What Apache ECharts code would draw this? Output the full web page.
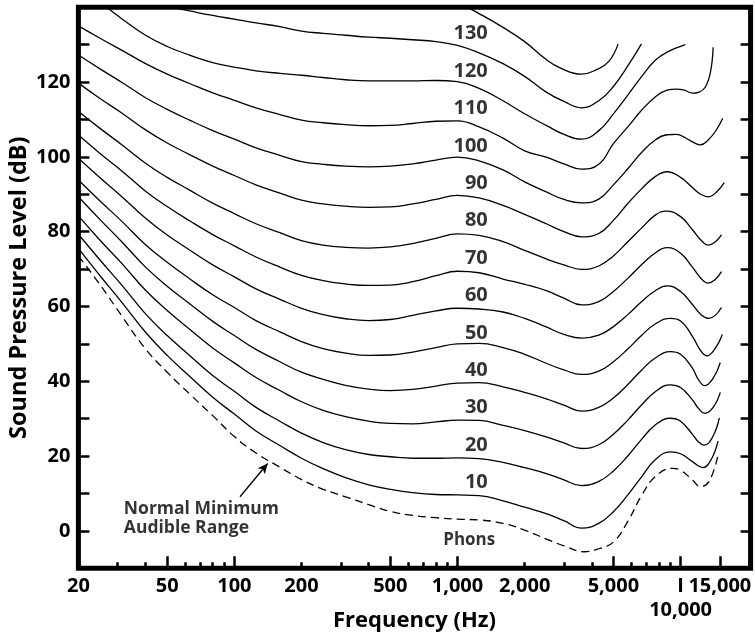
<!DOCTYPE html>
<html>
<head>
<meta charset="utf-8">
<script src="https://cdn.jsdelivr.net/npm/echarts@6/dist/echarts.min.js"></script>
<style>
  html, body { margin: 0; padding: 0; background: #fff; }
  #chart { width: 755px; height: 637px; }
</style>
</head>
<body>
<div id="chart"></div>
<script>
// Equal-loudness contours: sound pressure level needed for equal perceived loudness (phons)
// across the audible frequency range, with the threshold of hearing drawn dashed.

const xLabelValues = [20, 50, 100, 200, 500, 1000, 2000, 5000, 10000];
const xLabelValuesOuter = [15000];
const xMajorTicks = [50, 100, 500, 1000, 5000, 10000, 15000];
const xMinorTicks = [30, 40, 60, 70, 80, 90, 200, 300, 400, 600, 700, 800, 900,
  2000, 3000, 4000, 6000, 7000, 8000, 9000];
const yLabelValues = [0, 20, 40, 60, 80, 100, 120];

const phonLevels = [10, 20, 30, 40, 50, 60, 70, 80, 90, 100, 110, 120, 130];

// [frequency Hz, SPL dB]
const phon140 = [[1100,140],[1250,138.3],[1600,134.6],[2000,130.8],[2500,126],[2900,123.7],
  [3600,122.1],[4200,123.3],[4770,125.5],[5250,130.2]];
const phon130 = [[52,140],[63,139],[80,137.8],[100,136.8],[125,135.8],[160,134.8],[200,133.6],
  [250,133],[315,132.5],[400,132],[500,131.7],[630,131.3],[800,130.8],[1000,129.8],[1250,127.8],
  [1600,124.9],[2000,121.5],[2500,117.3],[3000,114.8],[3600,113.1],[4300,115],[5000,118.8],
  [5800,124.3],[6680,130.2]];
const phon120 = [[26.8,140],[31.5,136.8],[40,132.5],[50,129.5],[63,127.2],[80,125.2],[100,124],
  [125,123],[160,122.3],[200,121.8],[250,121.2],[315,120.6],[400,120.3],[500,120.3],[630,120.3],
  [800,120.4],[1000,120.1],[1250,118.3],[1600,115],[2000,111.5],[2500,108.4],[3000,106],
  [3600,104.7],[4300,107],[5000,111.5],[5800,116.5],[6700,121.5],[7700,125.8],[8700,128],
  [10500,130]];
const phon110 = [[20,135],[25,131.7],[31.5,128.4],[40,124.9],[50,122.1],[63,119.6],[80,117.1],
  [100,115.1],[125,113.1],[160,111.3],[200,109.8],[250,109.1],[315,108.6],[400,108.3],[500,108.4],
  [630,108.9],[800,109.5],[1000,109.6],[1250,108],[1600,105],[2000,101.6],[2500,99.9],[3000,98.1],
  [3600,96.7],[4300,98],[5000,103.5],[5800,108],[6700,112.5],[7700,116],[8700,117.8],[9600,118.1],
  [10400,117.8],[11300,117],[12100,117.3],[12900,118.6],[13600,122.5],[14000,129.3]];
const phon100 = [[20,127.2],[25,123.5],[31.5,119.8],[40,115.8],[50,112.7],[63,109.8],[80,107],
  [100,104.7],[125,102.4],[160,100.4],[200,98.7],[250,98],[315,97.5],[400,97.3],[500,97.5],
  [630,98.1],[800,99.1],[1000,99.9],[1250,98.9],[1600,96.5],[2000,93.3],[2500,90.6],[3000,88.6],
  [3600,87.7],[4300,88.7],[5000,92.5],[5800,96.8],[6700,101.2],[7700,104.5],[8700,105.9],
  [9600,106],[10500,105.1],[11300,104],[12250,103.2],[13300,104.5],[14500,107.3],[15450,110.3]];
const phon90 = [[20,119.7],[25,115.6],[31.5,111.6],[40,107.2],[50,103.7],[63,100.6],[80,97.5],
  [100,95],[125,92.5],[160,90.3],[200,88.4],[250,87.4],[315,86.8],[400,86.5],[500,86.6],[630,87.4],
  [800,88.6],[1000,89.7],[1250,89],[1600,87],[2000,84.6],[2500,82.1],[3000,80],[3600,78.6],
  [4300,79.5],[5000,83],[5800,87.5],[6700,91.5],[7700,94.7],[8700,96],[10000,94.5],[11300,91.8],
  [12300,90],[13400,89.3],[14600,90.8],[15700,93.1]];
const phon80 = [[20,112.1],[25,107.6],[31.5,103.1],[40,98.3],[50,94.5],[63,91.1],[80,87.6],
  [100,84.8],[125,82.1],[160,79.7],[200,77.6],[250,76.4],[315,75.8],[400,75.6],[500,75.9],
  [630,76.8],[800,78.2],[1000,79.4],[1250,79],[1600,77.3],[2000,75],[2500,72.7],[3000,71.1],
  [3600,69.9],[4300,70.8],[5000,73.5],[5800,77.3],[6700,81],[7700,84.4],[8600,85.5],[10000,84],
  [11300,80.5],[12300,77.8],[13300,76.4],[14300,77.2],[15250,79.1]];
const phon70 = [[20,105.8],[25,100.9],[31.5,96.1],[40,90.8],[50,86.7],[63,82.9],[80,79.2],
  [100,76.2],[125,73.2],[160,70.5],[200,68.3],[250,66.9],[315,66],[400,65.6],[500,65.7],
  [630,66.6],[800,68.2],[1000,69.4],[1250,69],[1600,67.3],[2000,65.9],[2500,64.2],[3000,62.2],
  [3600,60.4],[4300,61.3],[5000,64],[5800,67.5],[6700,71.2],[7700,74.3],[8700,75.7],[10000,74.2],
  [11300,70.5],[12300,67.6],[13300,66.2],[14300,67.2],[15250,69.3]];
const phon60 = [[20,99.6],[25,94.4],[31.5,89.2],[40,83.6],[50,79.1],[63,75.1],[80,71.1],
  [100,67.9],[125,64.7],[160,61.9],[200,59.5],[250,57.8],[315,56.7],[400,56.2],[500,56.5],
  [630,57.6],[800,58.8],[1000,59.5],[1250,59.3],[1600,58.5],[2000,56.8],[2500,54.5],[3000,52.5],
  [3600,51.5],[4300,52.3],[5000,54.6],[5800,57.8],[6700,61.3],[7700,64.2],[8700,65.5],[10000,64],
  [11300,60.5],[12300,57.9],[13400,56.8],[14300,57.6],[15250,59.7]];
const phon50 = [[20,93.8],[25,88.2],[31.5,82.6],[40,76.5],[50,71.8],[63,67.4],[80,63.1],
  [100,59.7],[125,56.2],[160,53.2],[200,50.6],[250,48.7],[315,47.5],[400,46.9],[500,47],
  [630,47.8],[800,49],[1000,50],[1250,50.1],[1600,49],[2000,47.2],[2500,44.8],[3000,43],
  [3600,41.8],[4300,42.7],[5000,45.2],[5800,48.6],[6700,52.3],[7700,55.3],[9000,56.8],[10000,56.1],
  [11300,52],[12300,48.2],[13100,46.8],[14200,48.5],[15400,52.5]];
const phon40 = [[20,89.3],[25,83.2],[31.5,77.1],[40,70.5],[50,65.4],[63,60.7],[80,56],
  [100,52.2],[125,48.5],[160,45.2],[200,42.4],[250,40.5],[315,38.9],[400,37.9],[500,37.5],
  [630,37.8],[800,38.7],[1000,39.5],[1250,39.6],[1600,38.5],[2000,37],[2500,35.3],[3000,33.6],
  [3600,32],[4300,33],[5000,35.5],[5800,39.1],[6700,43],[7700,46.2],[9000,47.9],[10000,47.2],
  [11300,43.5],[12000,40.5],[12850,38.8],[14000,40.8],[15070,45]];
const phon30 = [[20,84.2],[25,77.7],[31.5,71.3],[40,64.3],[50,58.9],[63,53.9],[80,48.9],
  [100,44.9],[125,41],[160,37.5],[200,34.5],[250,32.2],[315,30.5],[400,29.3],[500,28.7],
  [630,28.6],[800,29.1],[1000,29.6],[1250,29.5],[1600,28.2],[2000,26.8],[2500,25.1],[3000,23.5],
  [3600,22],[4300,23],[5000,25.8],[5800,29.6],[6700,33.7],[7700,37.2],[9000,39],[10000,38.3],
  [11300,35],[12000,32.8],[12850,31.4],[14000,33],[15070,37]];
const phon20 = [[20,79.3],[25,72.4],[31.5,65.5],[40,58],[50,52.2],[63,46.9],[80,41.5],
  [100,37.3],[125,33],[160,29.3],[200,26.1],[250,23.6],[315,21.7],[400,20.4],[500,19.8],
  [630,19.4],[800,19.4],[1000,19.5],[1250,19.3],[1600,18.3],[2000,16.9],[2500,15.3],[3000,13.6],
  [3600,12.1],[4300,13.2],[5000,16],[5800,20],[6700,24.5],[7700,28.3],[9000,30.1],[10000,29.3],
  [11300,25.8],[12000,23.8],[12750,22.9],[13900,25],[14920,30.2]];
const phon10 = [[20,75.5],[25,68.2],[31.5,60.9],[40,53.1],[50,46.9],[63,41.3],[80,35.7],
  [100,31.2],[125,26.7],[160,22.8],[200,19.4],[250,16.6],[315,14.2],[400,12.3],[500,11.1],
  [630,10.2],[800,9.7],[1000,9.6],[1250,9.4],[1600,8],[2000,6.3],[2500,4.6],[3000,2.7],
  [3600,0.7],[4300,2],[5000,5.1],[5800,9.6],[6700,14.5],[7700,19],[9000,21.1],[10000,20.6],
  [11300,18.5],[12600,16.9],[13700,19],[14720,24]];
// Threshold of hearing (normal minimum audible range)
const threshold = [[20,73.5],[25,65.8],[31.5,57.2],[40,48.6],[50,42.4],[63,36.6],[80,30.8],
  [100,25.2],[125,20.8],[160,17],[200,13.7],[250,11.1],[315,9.1],[400,7],[500,5.2],[630,4.1],
  [800,3.5],[1000,3.1],[1250,2.9],[1600,2],[2000,0.2],[2500,-2.2],[3000,-4],[3700,-5.6],
  [4300,-4.8],[5000,-3],[5800,2.5],[6700,9.5],[7700,14.5],[9200,16.7],[10000,16.2],[11300,13.6],
  [12300,11.8],[13500,13.5],[14760,20.7]];

const contours = [phon10, phon20, phon30, phon40, phon50, phon60, phon70, phon80, phon90,
  phon100, phon110, phon120, phon130, phon140];

const FONT = '"Open Sans", "Noto Sans", sans-serif';
const LABEL_FREQ = 1374;      // right edge of the phon labels
const LABEL_LIFT = 2.9;       // labels sit just above their curve

const fmtHz = v => v === 10000 ? 'I\n10,000' : v.toLocaleString('en-US');

const lineSeries = contours.map((d, i) => ({
  type: 'line',
  name: i < phonLevels.length ? phonLevels[i] + ' phons' : '140 phons',
  data: d,
  smooth: 0.45,
  symbol: 'none',
  clip: true,
  silent: true,
  lineStyle: { color: '#000', width: 1.3 },
  z: 3
}));

const thresholdSeries = {
  type: 'line',
  name: 'threshold',
  data: threshold,
  smooth: 0.45,
  symbol: 'none',
  clip: true,
  silent: true,
  lineStyle: { color: '#000', width: 1.3, type: [8, 5] },
  z: 3
};

const textStyleBase = { color: '#000', fontFamily: FONT, fontWeight: 'bold' };

const labelSeries = {
  type: 'scatter',
  silent: true,
  symbolSize: 1,
  itemStyle: { color: 'rgba(0,0,0,0)' },
  z: 5,
  data: phonLevels.map(p => ({
    value: [LABEL_FREQ, p + LABEL_LIFT],
    label: {
      show: true, position: 'left', distance: 0,
      formatter: String(p), fontSize: 20, ...textStyleBase
    }
  })).concat([
    {
      value: [1129, -2.5],
      label: { show: true, position: 'inside', formatter: 'Phons', fontSize: 17, ...textStyleBase }
    },
    {
      value: [31.8, 3.3],
      label: {
        show: true, position: 'right', distance: 0, align: 'left',
        formatter: 'Normal Minimum\nAudible Range', fontSize: 17.5, lineHeight: 19, ...textStyleBase
      }
    }
  ]),
  markLine: {
    silent: true,
    symbol: ['none', 'arrow'],
    symbolSize: [7, 10],
    label: { show: false },
    lineStyle: { color: '#000', width: 1.3, type: 'solid' },
    data: [[{ coord: [106, 9.1] }, { coord: [141, 18] }]]
  }
};

const xAxisBase = {
  type: 'log',
  logBase: 10,
  min: 20,
  max: 20600,
  position: 'bottom',
  axisLine: { show: false, onZero: false },
  splitLine: { show: false },
  minorTick: { show: false }
};

const tickLabelStyle = { margin: 6, fontSize: 20, lineHeight: 24, hideOverlap: false, ...textStyleBase };

const option = {
  animation: false,
  backgroundColor: '#fff',
  textStyle: { fontFamily: FONT },
  grid: {
    left: 78.4, right: 4.4, top: 7.2, bottom: 68.8,
    containLabel: false,
    outerBoundsMode: 'none',
    show: true, borderColor: '#000', borderWidth: 5, backgroundColor: 'transparent'
  },
  xAxis: [
    Object.assign({}, xAxisBase, {
      name: 'Frequency (Hz)',
      nameLocation: 'middle',
      nameGap: 42,
      nameMoveOverlap: false,
      nameTextStyle: { fontSize: 22, ...textStyleBase },
      axisTick: { show: true, inside: true, length: 12, lineStyle: { color: '#000', width: 2.5 },
        customValues: xMajorTicks },
      axisLabel: Object.assign({ show: true, customValues: xLabelValues, formatter: fmtHz }, tickLabelStyle)
    }),
    Object.assign({}, xAxisBase, {
      axisTick: { show: true, inside: true, length: 6, lineStyle: { color: '#000', width: 2.5 },
        customValues: xMinorTicks },
      axisLabel: Object.assign({ show: true, customValues: xLabelValuesOuter, formatter: fmtHz }, tickLabelStyle)
    })
  ],
  yAxis: [
    {
      type: 'value', min: -10, max: 140, interval: 10, position: 'left',
      name: 'Sound Pressure Level (dB)',
      nameLocation: 'middle',
      nameGap: 47,
      nameMoveOverlap: false,
      nameTextStyle: { fontSize: 23.5, ...textStyleBase },
      axisLine: { show: false, onZero: false },
      splitLine: { show: false },
      axisTick: { show: true, inside: true, length: 11, lineStyle: { color: '#000', width: 2.5 } },
      axisLabel: { margin: 8, fontSize: 20, ...textStyleBase,
        formatter: v => yLabelValues.includes(v) ? String(v) : '' }
    },
    {
      type: 'value', min: -10, max: 140, interval: 10, position: 'right',
      axisLine: { show: false, onZero: false },
      splitLine: { show: false },
      axisTick: { show: true, inside: true, length: 10, lineStyle: { color: '#000', width: 2.5 } },
      axisLabel: { show: false }
    }
  ],
  series: lineSeries.concat([thresholdSeries, labelSeries])
};

const chart = echarts.init(document.getElementById('chart'), null, { renderer: 'canvas' });
chart.setOption(option);
</script>
</body>
</html>
